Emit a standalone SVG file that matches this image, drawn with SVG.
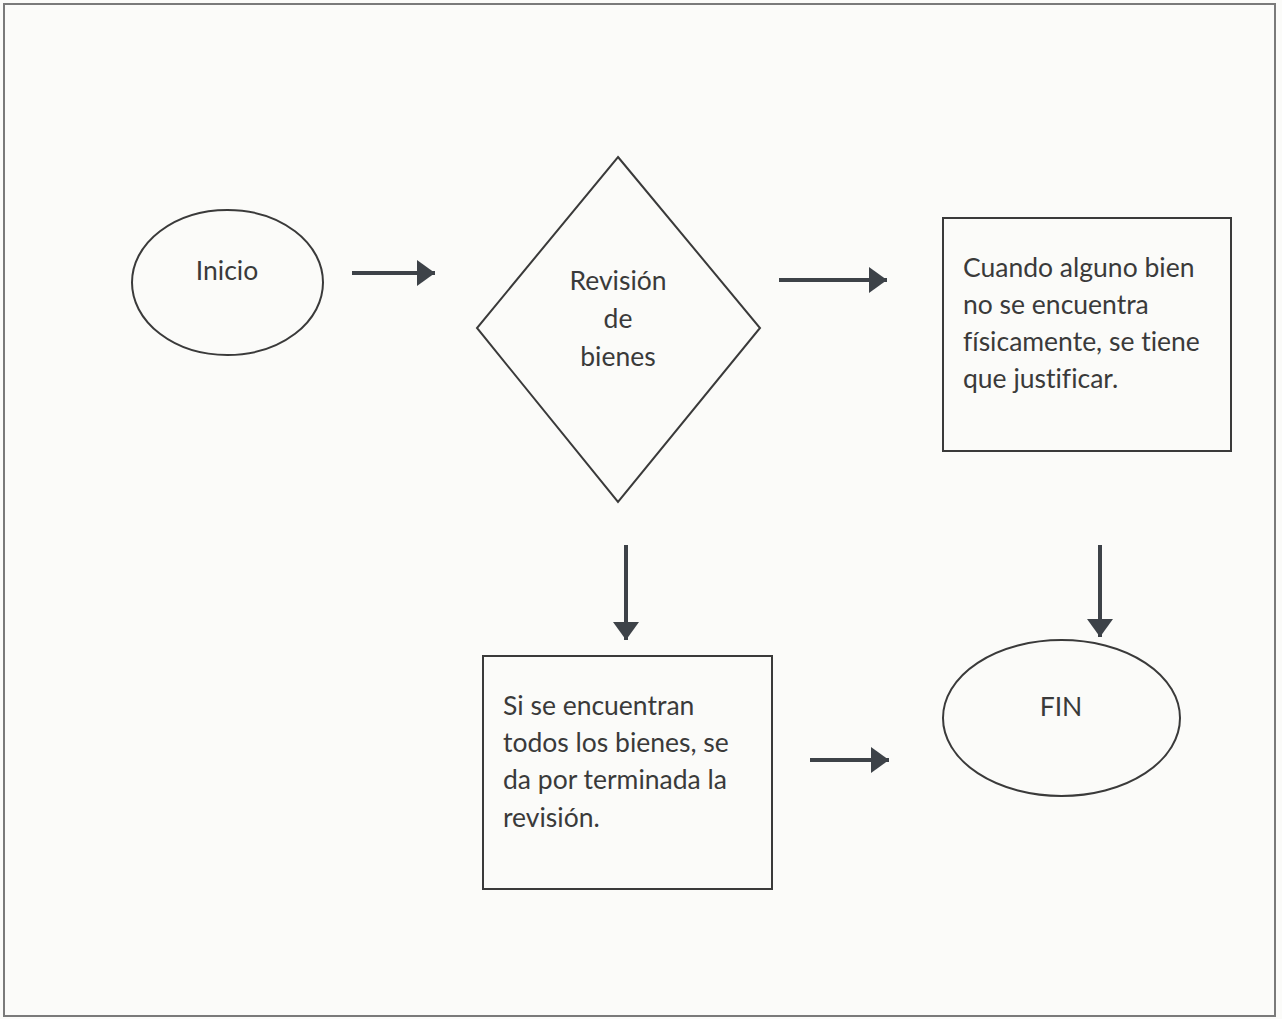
<svg xmlns="http://www.w3.org/2000/svg" width="1282" height="1019" viewBox="0 0 1282 1019">
<style>
.shape{fill:none;stroke:#3a3a3a;stroke-width:2}
.txt{font-family:Lato,"Liberation Sans",sans-serif;font-size:26.5px;fill:#3a3a3a;font-variant-ligatures:none;font-feature-settings:"liga" 0}
.mid{text-anchor:middle}
.conn{stroke:#3d4248;stroke-width:4;fill:none}
</style>
<defs>
<marker id="ah" markerUnits="userSpaceOnUse" markerWidth="20" markerHeight="28" refX="18" refY="14" orient="auto">
<polygon points="0,1 18,14 0,27" fill="#3d4248"/>
</marker>
</defs>
<rect x="0" y="0" width="1282" height="1019" fill="#fbfbf9"/>
<rect x="4" y="4" width="1271" height="1012" fill="none" stroke="#7a7a7a" stroke-width="2"/>
<g id="connectors">
<line class="conn" x1="352" y1="273" x2="435" y2="273" marker-end="url(#ah)"/>
<line class="conn" x1="779" y1="280" x2="887" y2="280" marker-end="url(#ah)"/>
<line class="conn" x1="626" y1="545" x2="626" y2="640" marker-end="url(#ah)"/>
<line class="conn" x1="1100" y1="545" x2="1100" y2="637" marker-end="url(#ah)"/>
<line class="conn" x1="810" y1="760" x2="889" y2="760" marker-end="url(#ah)"/>
</g>
<g id="inicio">
<ellipse class="shape" cx="227.5" cy="282.5" rx="95.5" ry="72.5"/>
<text class="txt mid" x="227" y="280">Inicio</text>
</g>
<g id="revision">
<polygon class="shape" points="618,157 760,328 618,502 477,328"/>
<text class="txt mid" x="618" y="290">Revisión</text>
<text class="txt mid" x="618" y="328">de</text>
<text class="txt mid" x="618" y="366">bienes</text>
</g>
<g id="justificar">
<rect class="shape" x="943" y="218" width="288" height="233"/>
<text class="txt" x="963" y="277">Cuando alguno bien</text>
<text class="txt" x="963" y="314">no se encuentra</text>
<text class="txt" x="963" y="351">físicamente, se tiene</text>
<text class="txt" x="963" y="388">que justificar.</text>
</g>
<g id="terminada">
<rect class="shape" x="483" y="656" width="289" height="233"/>
<text class="txt" x="503" y="715">Si se encuentran</text>
<text class="txt" x="503" y="752">todos los bienes, se</text>
<text class="txt" x="503" y="789">da por terminada la</text>
<text class="txt" x="503" y="827">revisión.</text>
</g>
<g id="fin">
<ellipse class="shape" cx="1061.5" cy="718" rx="118.5" ry="78"/>
<text class="txt mid" x="1061" y="716">FIN</text>
</g>
</svg>
